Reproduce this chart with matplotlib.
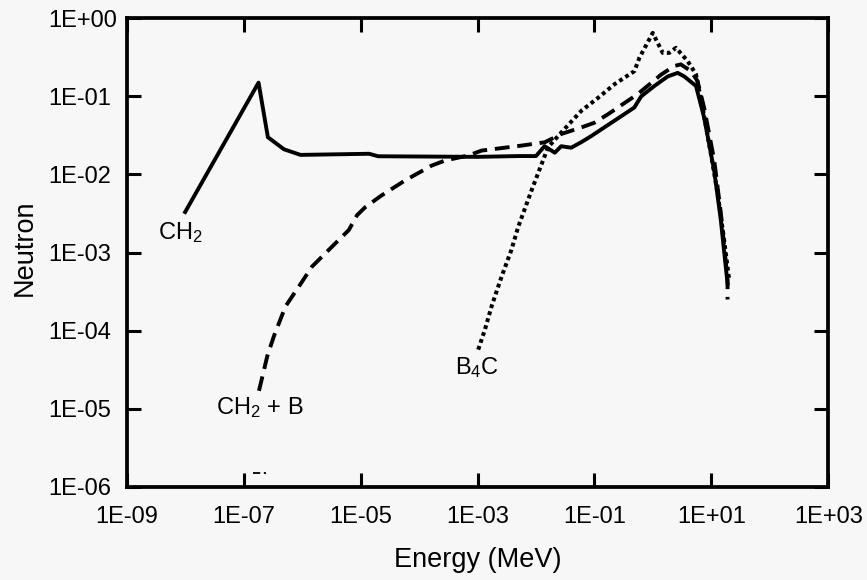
import matplotlib.pyplot as plt
from matplotlib.ticker import NullLocator

plt.rcParams['font.family'] = ['Liberation Sans', 'DejaVu Sans']
plt.rcParams['mathtext.default'] = 'regular'

# CH2 (solid line)
e_ch2 = [1.0e-8, 1.8e-7, 2.6e-7, 4.9e-7, 9.4e-7, 1.4e-5, 2.0e-5, 1.0e-3, 5.0e-3,
         1.0e-2, 1.4e-2, 2.1e-2, 2.7e-2, 4.0e-2, 6.0e-2, 8.8e-2, 0.17, 0.29, 0.48,
         0.63, 1.06, 1.79, 2.65, 3.44, 5.45, 7.5, 11.2, 14.5, 18.9]
n_ch2 = [3.3e-3, 0.15, 0.030, 0.021, 0.0178, 0.0184, 0.0171, 0.0168, 0.0172,
         0.0172, 0.023, 0.019, 0.023, 0.022, 0.026, 0.031, 0.043, 0.056, 0.072,
         0.10, 0.136, 0.18, 0.20, 0.18, 0.136, 0.054, 0.011, 0.0026, 4.0e-4]

# CH2 + B (dashed line)
e_ch2b = [1.83e-7, 2.54e-7, 3.3e-7, 5.2e-7, 8.8e-7, 1.48e-6, 2.86e-6, 6.3e-6,
          8.7e-6, 1.2e-5, 2.3e-5, 5.8e-5, 1.65e-4, 2.8e-4, 7.0e-4, 1.17e-3,
          5.6e-3, 1.41e-2, 2.72e-2, 5.96e-2, 0.10, 0.17, 0.55, 1.38, 2.32, 3.0,
          4.47, 5.8, 7.5, 11.2, 14.5, 18.9, 18.9]
n_ch2b = [1.69e-5, 4.7e-5, 8.5e-5, 2.04e-4, 3.66e-4, 6.6e-4, 1.08e-3, 1.94e-3,
          3.0e-3, 3.8e-3, 5.4e-3, 8.4e-3, 0.013, 0.0151, 0.0175, 0.0202,
          0.0234, 0.0258, 0.033, 0.040, 0.046, 0.059, 0.107, 0.19, 0.245, 0.257,
          0.211, 0.157, 0.072, 0.0151, 3.2e-3, 4.5e-4, 2.5e-4]

# B4C (dotted line)
e_b4c = [1.03e-3, 1.34e-3, 1.74e-3, 2.58e-3, 3.8e-3, 4.97e-3, 8.4e-3, 1.61e-2,
         2.72e-2, 5.96e-2, 0.115, 0.22, 0.483, 0.587, 0.993, 1.47, 1.9, 2.48,
         3.93, 5.45, 7.08, 9.8, 12.8, 16.5, 20.1]
n_b4c = [5.7e-5, 1.03e-4, 2.04e-4, 4.9e-4, 1.08e-3, 2.13e-3, 6.25e-3, 0.0223,
         0.0346, 0.0653, 0.0957, 0.143, 0.211, 0.312, 0.65, 0.361, 0.361, 0.419,
         0.283, 0.192, 0.072, 0.0184, 5.7e-3, 1.45e-3, 4.5e-4]

# small stray mark near the bottom axis
e_stray = [1.45e-7, 2.4e-7]
n_stray = [1.5e-6, 1.5e-6]

xticks = [1e-9, 1e-7, 1e-5, 1e-3, 1e-1, 1e1, 1e3]
xtick_labels = ['1E-09', '1E-07', '1E-05', '1E-03', '1E-01', '1E+01', '1E+03']
yticks = [1e-6, 1e-5, 1e-4, 1e-3, 1e-2, 1e-1, 1e0]
ytick_labels = ['1E-06', '1E-05', '1E-04', '1E-03', '1E-02', '1E-01', '1E+00']

bg = '#f7f7f7'
fig = plt.figure(figsize=(8.67, 5.8), dpi=100, facecolor=bg)
ax = fig.add_axes([0.1461, 0.1609, 0.8093, 0.8075], facecolor=bg)

ax.plot(e_ch2, n_ch2, color='black', lw=2.8)
ax.plot(e_ch2b, n_ch2b, color='black', lw=2.8, dashes=(3.8, 2.0), dash_capstyle='butt')
ax.plot(e_b4c, n_b4c, color='black', lw=2.9, dashes=(0.95, 0.85), dash_capstyle='butt')
ax.plot(e_stray, n_stray, color='black', lw=1.3, dashes=(4, 2))

ax.set_xscale('log')
ax.set_yscale('log')
ax.set_xlim(1e-9, 1e3)
ax.set_ylim(1e-6, 1e0)
ax.set_xticks(xticks)
ax.set_xticklabels(xtick_labels)
ax.set_yticks(yticks)
ax.set_yticklabels(ytick_labels)
ax.xaxis.set_minor_locator(NullLocator())
ax.yaxis.set_minor_locator(NullLocator())

ax.tick_params(direction='in', top=True, right=True, length=10, width=2.2,
               labelsize=17)
ax.tick_params(axis='x', pad=14)
ax.tick_params(axis='y', pad=56.5)
for lab in ax.get_yticklabels():
    lab.set_ha('left')
for sp in ax.spines.values():
    sp.set_linewidth(2.7)

ax.set_xlabel('Energy (MeV)', fontsize=19.5)
ax.xaxis.set_label_coords(0.5, -0.1708)
ax.xaxis.label.set_va('baseline')
ax.set_ylabel('Neutron', fontsize=19.5)
ax.yaxis.set_label_coords(-0.1454, 0.5096)
ax.yaxis.label.set_va('center')

ax.text(3.5e-9, 1.49e-3, 'CH$_2$', fontsize=17, va='baseline')
ax.text(3.4e-8, 8.5e-6, 'CH$_2$ + B', fontsize=17, va='baseline')
ax.text(4.1e-4, 2.75e-5, 'B$_4$C', fontsize=17, va='baseline')

fig.savefig('out.png', dpi=100, facecolor=bg)
